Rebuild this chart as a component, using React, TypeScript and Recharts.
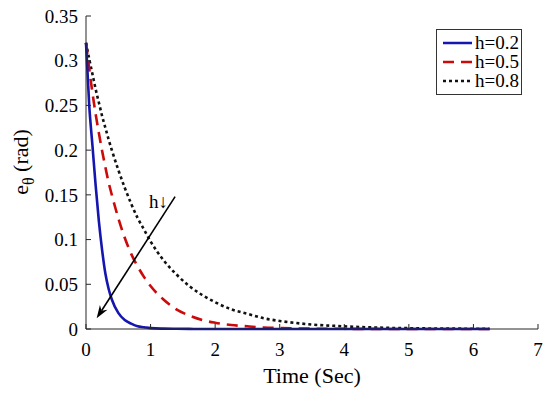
import React from 'react';
import { LineChart, Line, XAxis, YAxis, ReferenceLine, ReferenceDot, Legend } from 'recharts';

// time samples (sec) and error values
const timeSec = [0, 0.05, 0.1, 0.15, 0.2, 0.25, 0.3, 0.35, 0.4, 0.5, 0.6, 0.7, 0.8, 0.9, 1.0, 1.2, 1.4, 1.6, 1.8, 2.0, 2.25, 2.5, 2.75, 3.0, 3.5, 4.0, 4.5, 5.0, 5.5, 6.0, 6.25];
const errH02 = [0.32, 0.25, 0.205, 0.16, 0.12, 0.088, 0.062, 0.045, 0.033, 0.018, 0.01, 0.006, 0.003, 0.002, 0.001, 0.0004, 0.0002, 0.0001, 0, 0, 0, 0, 0, 0, 0, 0, 0, 0, 0, 0, 0];
const errH05 = [0.32, 0.291, 0.264, 0.24, 0.219, 0.199, 0.181, 0.164, 0.15, 0.124, 0.102, 0.084, 0.07, 0.058, 0.048, 0.033, 0.022, 0.015, 0.01, 0.007, 0.0045, 0.003, 0.0017, 0.001, 0.0004, 0.0002, 0.0001, 0, 0, 0, 0];
const errH08 = [0.32, 0.302, 0.285, 0.268, 0.253, 0.238, 0.225, 0.212, 0.2, 0.178, 0.158, 0.14, 0.124, 0.111, 0.098, 0.077, 0.061, 0.048, 0.038, 0.03, 0.022, 0.017, 0.012, 0.009, 0.005, 0.003, 0.0016, 0.0009, 0.0005, 0.0003, 0.0002];

const seriesNames = ['h=0.2', 'h=0.5', 'h=0.8'];
const xTicks = [0, 1, 2, 3, 4, 5, 6, 7];
const yTicks = [0, 0.05, 0.1, 0.15, 0.2, 0.25, 0.3, 0.35];
const yTickLabels = ['0', '0.05', '0.1', '0.15', '0.2', '0.25', '0.3', '0.35'];

// arrow annotation (data coords): tail -> head, and the "h↓" text
const arrowTail = { x: 1.38, y: 0.148 };
const arrowHead = { x: 0.165, y: 0.012 };
const arrowText = { x: 0.975, y: 0.135 };

const data = timeSec.map((t, i) => ({ t, h02: errH02[i], h05: errH05[i], h08: errH08[i] }));

const FONT = 'Liberation Serif, Times New Roman, DejaVu Serif, serif';
const AXIS = '#262626';

const lineStyles = [
  { color: '#1515b0', dash: undefined as string | undefined },
  { color: '#cc0a0a', dash: '11 7' },
  { color: '#111111', dash: '3 3' },
];

const Arrow = (props: any) => {
  const { x1, y1, x2, y2 } = props;
  const ang = Math.atan2(y2 - y1, x2 - x1);
  const len = 13;
  const half = 4.5;
  const bx = x2 - len * Math.cos(ang);
  const by = y2 - len * Math.sin(ang);
  const nx = -Math.sin(ang);
  const ny = Math.cos(ang);
  const notchX = x2 - 9 * Math.cos(ang);
  const notchY = y2 - 9 * Math.sin(ang);
  const d = `M${x2},${y2} L${bx + nx * half},${by + ny * half} L${notchX},${notchY} L${bx - nx * half},${by - ny * half} Z`;
  return (
    <g>
      <line x1={x1} y1={y1} x2={notchX} y2={notchY} stroke="#000" strokeWidth={1.6} />
      <path d={d} fill="#000" />
    </g>
  );
};

const ArrowLabel = (props: any) => (
  <text x={props.cx} y={props.cy} style={{ fontFamily: FONT }} fontSize={19} fill="#000">
    h↓
  </text>
);

const YLabel = ({ viewBox }: any) => {
  const cx = viewBox.x + 28;
  const cy = 162;
  return (
    <text transform={`translate(${cx},${cy}) rotate(-90)`} textAnchor="middle" style={{ fontFamily: FONT }} fontSize={22} fill="#000">
      e
      <tspan dy={6} fontSize={16}>θ</tspan>
      <tspan dy={-6}> (rad)</tspan>
    </text>
  );
};

const XLabel = ({ viewBox }: any) => (
  <text x={viewBox.x + viewBox.width / 2} y={viewBox.y + 54} textAnchor="middle" style={{ fontFamily: FONT }} fontSize={22} fill="#000">
    Time (Sec)
  </text>
);

const LegendBox = () => (
  <div
    style={{
      boxSizing: 'border-box',
      width: 86,
      border: '1px solid #333',
      background: '#fff',
      padding: '3px 2px 4px 5px',
      fontFamily: FONT,
      fontSize: 19,
      color: '#000',
    }}
  >
    {seriesNames.map((name, i) => (
      <div key={name} style={{ display: 'flex', alignItems: 'center', height: 19 }}>
        <svg width={32} height={19}>
          <line x1={1} y1={10} x2={31} y2={10} stroke={lineStyles[i].color} strokeWidth={2.5} strokeDasharray={lineStyles[i].dash} />
        </svg>
        <span style={{ marginLeft: 3, lineHeight: '19px' }}>{name}</span>
      </div>
    ))}
  </div>
);

const App: React.FC = () => {
  const tickStyle = { fill: '#000', fontSize: 19, fontFamily: FONT, style: { fontFamily: FONT } };
  return (
    <div style={{ position: 'absolute', left: 0, top: 0, width: 550, height: 393, background: '#fff', fontFamily: FONT }}>
      <LineChart width={550} height={393} data={data} margin={{ top: 16, right: 12, bottom: 14, left: 0 }} style={{ fontFamily: FONT }}>
        <XAxis
          dataKey="t"
          type="number"
          domain={[0, 7]}
          ticks={xTicks}
          interval={0}
          stroke={AXIS}
          tick={tickStyle}
          tickSize={-5}
          tickMargin={19}
          height={50}
          label={<XLabel />}
        />
        <YAxis
          type="number"
          domain={[0, 0.35]}
          ticks={yTicks}
          interval={0}
          tickFormatter={(v: number) => yTickLabels[yTicks.indexOf(v)] ?? String(v)}
          stroke={AXIS}
          tick={tickStyle}
          tickSize={-5}
          tickMargin={13}
          width={86}
          label={<YLabel />}
        />
        <XAxis
          xAxisId="top"
          orientation="top"
          dataKey="t"
          type="number"
          domain={[0, 7]}
          ticks={xTicks}
          interval={0}
          stroke={AXIS}
          tickFormatter={() => ''}
          tickSize={-5}
          height={0}
        />
        <YAxis
          yAxisId="right"
          orientation="right"
          type="number"
          domain={[0, 0.35]}
          ticks={yTicks}
          interval={0}
          stroke={AXIS}
          tickFormatter={() => ''}
          tickSize={-5}
          width={0}
        />
        <Line xAxisId="top" yAxisId="right" dataKey="h08" stroke="none" dot={false} legendType="none" isAnimationActive={false} />
        <Line type="monotone" dataKey="h08" name={seriesNames[2]} stroke={lineStyles[2].color} strokeWidth={2.6} strokeDasharray={lineStyles[2].dash} dot={false} isAnimationActive={false} />
        <Line type="monotone" dataKey="h05" name={seriesNames[1]} stroke={lineStyles[1].color} strokeWidth={2.6} strokeDasharray={lineStyles[1].dash} dot={false} isAnimationActive={false} />
        <Line type="monotone" dataKey="h02" name={seriesNames[0]} stroke={lineStyles[0].color} strokeWidth={2.6} dot={false} isAnimationActive={false} />
        <ReferenceLine segment={[arrowTail, arrowHead]} shape={<Arrow />} />
        <ReferenceDot x={arrowText.x} y={arrowText.y} r={0} shape={<ArrowLabel />} />
        <Legend
          layout="vertical"
          align="center"
          verticalAlign="middle"
          content={<LegendBox />}
          wrapperStyle={{ position: 'absolute', left: 436, top: 29, width: 86 }}
        />
      </LineChart>
    </div>
  );
};

export default App;
